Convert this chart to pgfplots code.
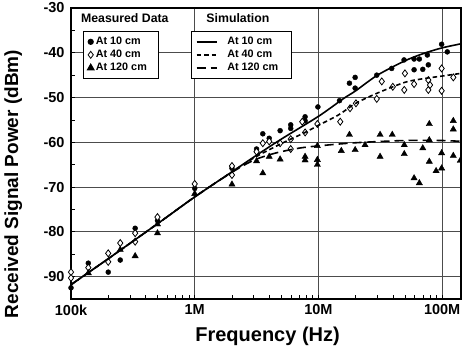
\documentclass[border=0pt]{standalone}
\usepackage{fontspec}
\setmainfont{Liberation Sans}
\usepackage{pgfplots}
\pgfplotsset{compat=1.18}
\begin{document}
\begin{tikzpicture}
\begin{axis}[name=ax,
  width=390pt, height=291pt, scale only axis,
  xmode=log, xmin=1e5, xmax=1.42e8, ymin=-95, ymax=-30,
  xtick={1e5,1e6,1e7,1e8}, xticklabels={100k,1M,10M,100M},
  minor xtick={2e5,3e5,4e5,5e5,6e5,7e5,8e5,9e5,2e6,3e6,4e6,5e6,6e6,7e6,8e6,9e6,2e7,3e7,4e7,5e7,6e7,7e7,8e7,9e7},
  ytick={-90,-80,-70,-60,-50,-40,-30}, yticklabels={-90,-80,-70,-60,-50,-40,-30},
  minor ytick={-95,-85,-75,-65,-55,-45,-35},
  tick align=inside, tick pos=left,
  major tick length=4pt, minor tick length=4pt,
  tick style={black, line width=0.8pt},
  grid=major, major grid style={black!70, line width=0.8pt},
  axis line style={line width=1.6pt},
  ticklabel style={font=\bfseries\fontsize{14.5}{16}\selectfont},
  xticklabel style={yshift=-2pt},
  yticklabel style={xshift=-3pt},
  xlabel={Frequency (Hz)},
  ylabel={Received Signal Power (dBm)},
  xlabel style={font=\bfseries\fontsize{20}{22}\selectfont, at={(axis description cs:0.504,-0.127)}, anchor=center},
  ylabel style={font=\bfseries\fontsize{19}{21}\selectfont, at={(axis description cs:-0.148,0.395)}, anchor=center},
  legend style={at={(0,0.922)}, anchor=north west, xshift=12pt, draw=black, line width=1.2pt,
    font=\bfseries\fontsize{10.8}{12}\selectfont, row sep=0pt, inner xsep=4pt, inner ysep=4pt},
  legend cell align=left,
  legend image code/.code={\draw[mark repeat=2,mark phase=2,#1] plot coordinates {(0pt,0pt) (6pt,0pt) (12pt,0pt)};},
]
% 10 cm measured
\addplot[only marks, mark=*, mark size=2.5pt, black] coordinates {
(1e5,-92.5) (1.38e5,-87.0) (2e5,-89.0) (2.5e5,-86.3) (3.3e5,-79.2) (5e5,-77.5)
(1e6,-70.3) (2e6,-65.8) (3.16e6,-61.5) (3.55e6,-58.1) (4.0e6,-59.1) (4.9e6,-57.4)
(5.97e6,-56.1) (5.97e6,-56.9) (7.8e6,-54.3) (7.8e6,-55.2) (9.9e6,-52.1)
(1.48e7,-50.7) (1.78e7,-46.8) (1.98e7,-45.5) (1.98e7,-47.9) (2.96e7,-45.0)
(3.91e7,-43.5) (4.92e7,-41.6) (5.93e7,-41.4) (5.93e7,-43.8) (6.54e7,-41.4)
(6.97e7,-43.7) (7.59e7,-40.5) (7.73e7,-42.7) (9.9e7,-38.1) (1.10e8,-39.8)
};
\addlegendentry{At 10 cm}
% 40 cm measured
\addplot[only marks, mark=diamond*, mark size=3.5pt, black, mark options={fill=white, line width=0.8pt}] coordinates {
(1e5,-89.0) (1e5,-90.3) (1.38e5,-88.0) (2e5,-84.8) (2e5,-86.7) (2.5e5,-82.5)
(3.3e5,-80.3) (3.3e5,-82.2) (5e5,-76.7) (1e6,-69.3) (2e6,-65.3) (2e6,-67.3)
(3.16e6,-62.1) (3.55e6,-60.2) (4.0e6,-59.8) (4.9e6,-60.2) (5.97e6,-61.5) (5.97e6,-59.3)
(7.4e6,-55.4) (7.8e6,-57.8) (9.8e6,-55.9)
(1.50e7,-55.4) (1.80e7,-52.4) (2.01e7,-51.3) (2.96e7,-50.3) (3.25e7,-46.4)
(3.99e7,-47.6) (4.94e7,-48.3) (5.0e7,-44.6) (5.93e7,-47.0) (7.73e7,-46.1)
(7.73e7,-48.3) (7.98e7,-47.2) (9.9e7,-43.5) (9.9e7,-48.5) (1.23e8,-45.5)
};
\addlegendentry{At 40 cm}
% 120 cm measured
\addplot[only marks, mark=triangle*, mark size=3.6pt, black] coordinates {
(1.38e5,-89.2) (2.5e5,-84.0) (3.3e5,-85.4) (5e5,-78.3) (5e5,-80.3) (1e6,-71.5)
(2e6,-69.4) (3.16e6,-64.2) (3.55e6,-66.9) (4.0e6,-63.2) (4.9e6,-63.8)
(7.8e6,-63.2) (7.8e6,-64.0) (9.8e6,-60.8) (9.8e6,-63.9) (9.8e6,-65.0)
(1.53e7,-61.9) (1.78e7,-58.3) (1.98e7,-61.7) (2.38e7,-60.6) (3.15e7,-58.3)
(3.15e7,-63.2) (3.95e7,-58.3) (4.94e7,-60.6) (4.94e7,-62.6) (5.93e7,-68.0)
(6.54e7,-69.1) (6.97e7,-61.3) (7.87e7,-59.5) (7.87e7,-55.9) (7.87e7,-64.3)
(8.93e7,-66.4) (9.9e7,-62.4) (9.9e7,-65.8) (1.23e8,-55.2) (1.23e8,-57.1)
(1.23e8,-63.0) (1.40e8,-64.1)
};
\addlegendentry{At 120 cm\hspace*{6pt}}
\node[font=\bfseries\fontsize{12.3}{14}\selectfont] at (axis description cs:0.138,0.966) {Measured Data};
\node[font=\bfseries\fontsize{12.3}{14}\selectfont] at (axis description cs:0.428,0.966) {Simulation};
\end{axis}
\begin{axis}[
  width=390pt, height=291pt, scale only axis,
  xmode=log, xmin=1e5, xmax=1.42e8, ymin=-95, ymax=-30,
  hide axis,
  legend style={at={(0.308,0.922)}, anchor=north west, draw=black, line width=1.2pt,
    font=\bfseries\fontsize{10.8}{12}\selectfont, row sep=0pt, inner xsep=4pt, inner ysep=4pt},
  legend cell align=left,
  legend image code/.code={\draw[#1] (0pt,0pt) -- (20pt,0pt); \path (28pt,0pt);},
]
\addplot[black, line width=1.6pt, smooth] coordinates {
(1e5,-91.8) (2e5,-86.0) (5e5,-78.2) (1e6,-72.2) (2e6,-66.6) (3e6,-63.3) (5e6,-59.3)
(1e7,-54.2) (1.6e7,-50.2) (2e7,-48.5) (3e7,-45.0) (5e7,-41.8) (7e7,-40.2) (1e8,-38.9) (1.42e8,-38.0)
};
\addlegendentry{At 10 cm}
\addplot[black, line width=1.6pt, smooth, dash pattern=on 4.5pt off 3pt] coordinates {
(1e5,-91.8) (2e5,-86.0) (5e5,-78.2) (1e6,-72.2) (2e6,-66.6) (3e6,-63.5) (5e6,-60.3)
(7.8e6,-57.8) (1e7,-56.2) (1.45e7,-53.9) (2e7,-51.3) (3e7,-49.0) (5e7,-46.6) (7e7,-45.8) (1e8,-45.2) (1.42e8,-44.6)
};
\addlegendentry{At 40 cm}
\addplot[black, line width=1.6pt, smooth, dash pattern=on 9pt off 5pt] coordinates {
(1e5,-91.8) (2e5,-86.0) (5e5,-78.2) (1e6,-72.2) (2e6,-66.7) (3e6,-64.0) (4.5e6,-62.4)
(7e6,-61.3) (1e7,-60.8) (2e7,-60.1) (5e7,-59.6) (1e8,-59.6) (1.42e8,-59.8)
};
\addlegendentry{At 120 cm\hspace*{7pt}}
\end{axis}
\pgfresetboundingbox
\path ([shift={(-71pt,-57pt)}]ax.south west) rectangle ([shift={(1pt,8pt)}]ax.north east);
\end{tikzpicture}
\end{document}
